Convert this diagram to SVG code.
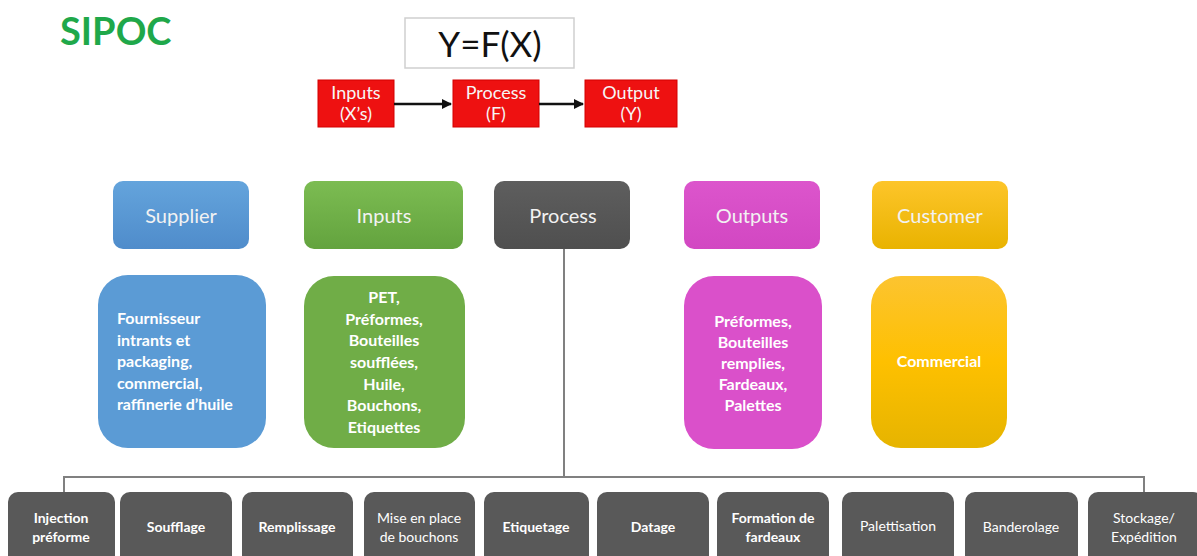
<svg xmlns="http://www.w3.org/2000/svg" width="1197" height="556" viewBox="0 0 1197 556">
<defs>
  <linearGradient id="gBlue" x1="0" y1="0" x2="0" y2="1"><stop offset="0" stop-color="#64a4dc"/><stop offset="1" stop-color="#4f8ccb"/></linearGradient>
  <linearGradient id="gGreen" x1="0" y1="0" x2="0" y2="1"><stop offset="0" stop-color="#7cbc52"/><stop offset="1" stop-color="#63a33e"/></linearGradient>
  <linearGradient id="gGray" x1="0" y1="0" x2="0" y2="1"><stop offset="0" stop-color="#5e5e5e"/><stop offset="1" stop-color="#4f4f4f"/></linearGradient>
  <linearGradient id="gPink" x1="0" y1="0" x2="0" y2="1"><stop offset="0" stop-color="#dc55cc"/><stop offset="1" stop-color="#d247c2"/></linearGradient>
  <linearGradient id="gYellow" x1="0" y1="0" x2="0" y2="1"><stop offset="0" stop-color="#fdc52a"/><stop offset="1" stop-color="#e9b300"/></linearGradient>
  <linearGradient id="gYellow2" x1="0" y1="0" x2="0" y2="1"><stop offset="0" stop-color="#fcc430"/><stop offset="0.5" stop-color="#fec000"/><stop offset="1" stop-color="#e6b400"/></linearGradient>
  <marker id="arr" viewBox="0 0 10 10" refX="9" refY="5" markerWidth="4" markerHeight="4" orient="auto"><path d="M0,0 L10,5 L0,10 z" fill="#111"/></marker>
</defs>
<style>
  text { font-family: Lato, "Open Sans", "Liberation Sans", sans-serif; }
  .hdr { font-size: 20px; fill: #f2f2f2; text-anchor: middle; }
  .body { font-size: 16px; font-weight: bold; fill: #ffffff; }
  .c { text-anchor: middle; }
  .step { fill: #595959; }
  .st { font-size: 14px; fill: #ffffff; text-anchor: middle; }
  .b { font-weight: bold; }
  .red { fill: #ee1111; stroke: #d40000; stroke-width: 1; }
  .rt { font-size: 18px; fill: #f6f6f6; text-anchor: middle; }
  .conn { stroke: #808080; stroke-width: 2; fill: none; }
</style>
<rect width="1197" height="556" fill="#ffffff"/>

<text x="60" y="45" font-size="38" font-weight="bold" fill="#1fa84a">SIPOC</text>

<g id="formula">
  <rect x="405" y="18" width="169" height="50" fill="#ffffff" stroke="#cfcfcf" stroke-width="1.5"/>
  <text x="490" y="57" font-size="35" fill="#111" text-anchor="middle">Y=F(X)</text>
</g>
<g id="red-inputs">
  <rect class="red" x="318" y="80" width="76" height="47"/>
  <text class="rt" x="356" y="99">Inputs</text><text class="rt" x="356" y="120">(X’s)</text>
</g>
<g id="red-process">
  <rect class="red" x="453" y="80" width="86" height="47"/>
  <text class="rt" x="496" y="99">Process</text><text class="rt" x="496" y="120">(F)</text>
</g>
<g id="red-output">
  <rect class="red" x="585" y="80" width="92" height="47"/>
  <text class="rt" x="631" y="99">Output</text><text class="rt" x="631" y="120">(Y)</text>
</g>

<g id="connectors">
  <line x1="394" y1="104" x2="451" y2="104" stroke="#111" stroke-width="2.5" marker-end="url(#arr)"/>
  <line x1="539" y1="104" x2="583" y2="104" stroke="#111" stroke-width="2.5" marker-end="url(#arr)"/>
  <path class="conn" d="M564,249 V477"/>
  <path class="conn" d="M64,493 V477 H1144 V493"/>
</g>

<g id="hdr-supplier"><rect x="113" y="181" width="136" height="68" rx="10" fill="url(#gBlue)"/><text class="hdr" x="181" y="223">Supplier</text></g>
<g id="hdr-inputs"><rect x="304" y="181" width="159" height="68" rx="10" fill="url(#gGreen)"/><text class="hdr" x="384" y="223">Inputs</text></g>
<g id="hdr-process"><rect x="494" y="181" width="136" height="68" rx="10" fill="url(#gGray)"/><text class="hdr" x="563" y="223">Process</text></g>
<g id="hdr-outputs"><rect x="684" y="181" width="136" height="68" rx="10" fill="url(#gPink)"/><text class="hdr" x="752" y="223">Outputs</text></g>
<g id="hdr-customer"><rect x="872" y="181" width="136" height="68" rx="10" fill="url(#gYellow)"/><text class="hdr" x="940" y="223">Customer</text></g>

<g id="box-supplier">
  <rect x="98" y="275" width="168" height="173" rx="30" fill="#5b9bd5"/>
  <text class="body" x="117" y="324">Fournisseur</text>
  <text class="body" x="117" y="346">intrants et</text>
  <text class="body" x="117" y="367">packaging,</text>
  <text class="body" x="117" y="389">commercial,</text>
  <text class="body" x="117" y="410">raffinerie d’huile</text>
</g>
<g id="box-inputs">
  <rect x="304" y="276" width="161" height="172" rx="30" fill="#70ad47"/>
  <text class="body c" x="384" y="303">PET,</text>
  <text class="body c" x="384" y="325">Préformes,</text>
  <text class="body c" x="384" y="346">Bouteilles</text>
  <text class="body c" x="384" y="368">soufflées,</text>
  <text class="body c" x="384" y="390">Huile,</text>
  <text class="body c" x="384" y="411">Bouchons,</text>
  <text class="body c" x="384" y="433">Etiquettes</text>
</g>
<g id="box-outputs">
  <rect x="684" y="276" width="138" height="173" rx="30" fill="#da50ca"/>
  <text class="body c" x="753" y="327">Préformes,</text>
  <text class="body c" x="753" y="348">Bouteilles</text>
  <text class="body c" x="753" y="369">remplies,</text>
  <text class="body c" x="753" y="390">Fardeaux,</text>
  <text class="body c" x="753" y="411">Palettes</text>
</g>
<g id="box-customer">
  <rect x="871" y="276" width="136" height="172" rx="30" fill="url(#gYellow2)"/>
  <text class="body c" x="939" y="367" fill="#fff7d6">Commercial</text>
</g>

<g id="step-injection"><rect class="step" x="8" y="492" width="107" height="75" rx="10"/><text class="st b" x="61" y="523">Injection</text><text class="st b" x="61" y="542">préforme</text></g>
<g id="step-soufflage"><rect class="step" x="120" y="492" width="112" height="75" rx="10"/><text class="st b" x="176" y="532">Soufflage</text></g>
<g id="step-remplissage"><rect class="step" x="242" y="492" width="111" height="75" rx="10"/><text class="st b" x="297" y="532">Remplissage</text></g>
<g id="step-bouchons"><rect class="step" x="364" y="492" width="111" height="75" rx="10"/><text class="st" x="419" y="523">Mise en place</text><text class="st" x="419" y="542">de bouchons</text></g>
<g id="step-etiquetage"><rect class="step" x="484" y="492" width="105" height="75" rx="10"/><text class="st b" x="536" y="532">Etiquetage</text></g>
<g id="step-datage"><rect class="step" x="597" y="492" width="112" height="75" rx="10"/><text class="st b" x="653" y="532">Datage</text></g>
<g id="step-fardeaux"><rect class="step" x="717" y="492" width="112" height="75" rx="10"/><text class="st b" x="773" y="523">Formation de</text><text class="st b" x="773" y="542">fardeaux</text></g>
<g id="step-palettisation"><rect class="step" x="842" y="492" width="112" height="75" rx="10"/><text class="st" x="898" y="531">Palettisation</text></g>
<g id="step-banderolage"><rect class="step" x="965" y="492" width="113" height="75" rx="10"/><text class="st" x="1021" y="532">Banderolage</text></g>
<g id="step-stockage"><rect class="step" x="1088" y="492" width="115" height="75" rx="10"/><text class="st" x="1144" y="523">Stockage/</text><text class="st" x="1144" y="542">Expédition</text></g>
</svg>
